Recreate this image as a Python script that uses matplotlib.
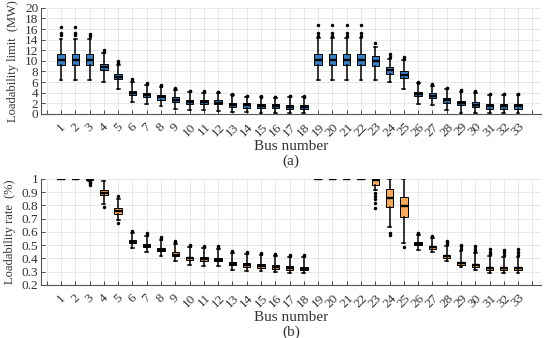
import numpy as np
import matplotlib
matplotlib.use('Agg')
import matplotlib.pyplot as plt

plt.rcParams['font.family'] = 'Liberation Serif'
plt.rcParams['font.size'] = 10

buses = list(range(1, 34))

# (a) loadability limit (MW)
lim_med = [10.2, 10.2, 10.2, 8.8, 7.0, 3.9, 3.6, 3.1, 2.6, 2.3, 2.2, 2.1, 1.7, 1.6, 1.5, 1.45, 1.35, 1.35,
           10.2, 10.2, 10.2, 10.2, 10.0, 8.2, 7.35, 3.8, 3.45, 2.6, 2.0, 1.75, 1.45, 1.4, 1.4]
lim_q1 = [9.3, 9.3, 9.3, 8.2, 6.5, 3.5, 3.15, 2.7, 2.3, 1.9, 1.85, 1.8, 1.3, 1.2, 1.1, 1.05, 0.95, 0.95,
          9.2, 9.2, 9.2, 9.2, 9.1, 7.6, 6.7, 3.3, 2.95, 2.1, 1.6, 1.3, 1.0, 0.95, 0.95]
lim_q3 = [11.2, 11.2, 11.2, 9.4, 7.6, 4.4, 3.95, 3.5, 3.1, 2.7, 2.65, 2.6, 2.1, 2.0, 1.9, 1.85, 1.75, 1.75,
          11.3, 11.3, 11.3, 11.3, 10.9, 8.8, 8.05, 4.2, 3.95, 3.0, 2.5, 2.2, 1.9, 1.85, 1.85]
lim_lo = [6.3, 6.3, 6.3, 6.0, 4.7, 2.2, 1.9, 1.45, 1.0, 0.7, 0.65, 0.6, 0.4, 0.3, 0.25, 0.2, 0.2, 0.2,
          6.3, 6.3, 6.3, 6.3, 6.35, 6.0, 4.7, 1.95, 1.6, 0.7, 0.2, 0.2, 0.1, 0.1, 0.1]
lim_hi = [14.1, 14.1, 14.1, 11.4, 9.2, 6.0, 5.4, 5.0, 4.5, 4.1, 4.0, 3.9, 3.5, 3.2, 3.1, 3.0, 3.2, 3.1,
          14.3, 14.3, 14.3, 14.3, 12.7, 10.4, 10.1, 5.8, 5.3, 4.6, 4.2, 4.0, 3.6, 3.6, 3.6]
lim_out = [[14.8, 15.2, 16.4], [14.9, 15.3, 16.4], [14.6, 15.1], [11.6, 12.1], [9.5, 9.9], [6.2, 6.5],
           [5.6, 5.9], [5.2, 5.4], [4.7, 4.9], [4.3, 4.4], [4.2, 4.3], [4.1, 4.2], [3.6, 3.7], [3.3, 3.4],
           [3.2, 3.3], [3.1, 3.2], [3.3, 3.4], [3.2, 3.3],
           [14.6, 15.3, 16.7], [14.6, 15.3, 16.7], [14.6, 15.3, 16.7], [14.6, 15.3, 16.7], [13.3],
           [10.7, 11.2], [10.4, 10.7], [5.9, 6.1], [5.5, 5.7], [4.8, 4.9], [4.4, 4.5], [4.2, 4.3],
           [3.7, 3.8], [3.7, 3.8], [3.7, 3.8]]

# (b) loadability rate
rate_med = [1.0, 1.0, 1.0, 0.895, 0.755, 0.527, 0.497, 0.465, 0.428, 0.4, 0.395, 0.388, 0.36, 0.348, 0.343,
            0.335, 0.325, 0.322, 1.0, 1.0, 1.0, 1.0, 0.99, 0.856, 0.796, 0.51, 0.487, 0.416, 0.363, 0.347,
            0.325, 0.325, 0.325]
rate_q1 = [1.0, 1.0, 0.994, 0.875, 0.735, 0.514, 0.485, 0.453, 0.416, 0.387, 0.381, 0.377, 0.347, 0.336,
           0.331, 0.321, 0.311, 0.31, 1.0, 1.0, 1.0, 1.0, 0.955, 0.79, 0.71, 0.498, 0.474, 0.402, 0.351,
           0.336, 0.31, 0.31, 0.31]
rate_q3 = [1.0, 1.0, 1.0, 0.915, 0.778, 0.54, 0.51, 0.48, 0.445, 0.413, 0.408, 0.4, 0.374, 0.362, 0.357,
           0.349, 0.339, 0.338, 1.0, 1.0, 1.0, 1.0, 1.0, 0.92, 0.862, 0.52, 0.497, 0.426, 0.375, 0.359,
           0.334, 0.334, 0.334]
rate_lo = [1.0, 1.0, 0.985, 0.81, 0.69, 0.48, 0.445, 0.416, 0.38, 0.35, 0.345, 0.34, 0.313, 0.305, 0.305,
           0.3, 0.29, 0.29, 1.0, 1.0, 1.0, 1.0, 0.914, 0.635, 0.515, 0.464, 0.446, 0.384, 0.335, 0.315,
           0.29, 0.29, 0.29]
rate_hi = [1.0, 1.0, 1.0, 0.985, 0.85, 0.595, 0.57, 0.54, 0.51, 0.485, 0.478, 0.47, 0.44, 0.43, 0.425,
           0.415, 0.41, 0.41, 1.0, 1.0, 1.0, 1.0, 1.0, 1.0, 1.0, 0.575, 0.555, 0.495, 0.455, 0.44, 0.415,
           0.41, 0.41]
rate_out = [[], [], [0.975, 0.965, 0.955], [0.79], [0.87, 0.67], [0.605], [0.58, 0.59], [0.55, 0.56],
            [0.52, 0.53], [0.49, 0.5], [0.485, 0.495], [0.48, 0.49], [0.45, 0.455], [0.44, 0.445],
            [0.435, 0.44], [0.425, 0.43], [0.42, 0.425], [0.42, 0.425], [], [], [], [],
            [0.89, 0.87, 0.85, 0.82, 0.78], [0.59, 0.575], [0.485], [0.585, 0.59], [0.565, 0.57],
            [0.505, 0.52, 0.53], [0.47, 0.49, 0.5], [0.455, 0.47, 0.49], [0.43, 0.45, 0.47],
            [0.425, 0.445, 0.465], [0.425, 0.445, 0.47]]


def make_stats(med, q1, q3, lo, hi, out):
    return [dict(med=m, q1=a, q3=b, whislo=l, whishi=h, fliers=f)
            for m, a, b, l, h, f in zip(med, q1, q3, lo, hi, out)]


txt = '#333333'
fig = plt.figure(figsize=(5.5, 3.38), dpi=100)
ax1 = fig.add_axes([0.0745, 0.663, 0.909, 0.314])
ax2 = fig.add_axes([0.0745, 0.157, 0.909, 0.314])

panels = [(ax1, make_stats(lim_med, lim_q1, lim_q3, lim_lo, lim_hi, lim_out), '#3a7fc0',
           'Loadability limit  (MW)', (0, 20), np.arange(0, 21, 2), '(a)'),
          (ax2, make_stats(rate_med, rate_q1, rate_q3, rate_lo, rate_hi, rate_out), '#f5aa60',
           'Loadability rate  (%)', (0.2, 1.0), np.round(np.arange(0.2, 1.01, 0.1), 1), '(b)')]

for ax, stats, col, ylab, ylim, yt, tag in panels:
    ax.set_axisbelow(True)
    ax.bxp(stats, positions=buses, widths=0.52, capwidths=0.2, patch_artist=True,
           boxprops=dict(facecolor=col, edgecolor='k', linewidth=0.7),
           medianprops=dict(color='k', linewidth=1.7),
           whiskerprops=dict(color='k', linewidth=1.1),
           capprops=dict(color='k', linewidth=1.1),
           flierprops=dict(marker='.', markersize=3, markerfacecolor='k', markeredgecolor='k'))
    ax.set_xlim(-0.4, 34.6)
    ax.set_ylim(*ylim)
    ax.set_xticks(range(0, 35))
    ax.set_xticklabels([''] + [str(b) for b in buses] + [''], rotation=45, ha='center', va='top',
                       color=txt)
    ax.set_yticks(yt)
    ax.set_yticklabels(['1' if v == 1 else ('%g' % v) for v in yt], color=txt)
    ax.tick_params(direction='in', length=3, width=0.6, colors=txt, labelsize=9.5, pad=2)
    ax.tick_params(axis='x', pad=5)
    ax.grid(True, color='#e3e3e3', linewidth=0.6)
    for s in ['top', 'right']:
        ax.spines[s].set_visible(False)
    for s in ['left', 'bottom']:
        ax.spines[s].set_color('#555555')
        ax.spines[s].set_linewidth(0.8)
    ax.set_ylabel(ylab, fontsize=9, color=txt, labelpad=4)
    ax.set_xlabel('Bus number\n' + tag, fontsize=11, color=txt, labelpad=1, linespacing=1.1)

fig.savefig('out.png', dpi=100)
